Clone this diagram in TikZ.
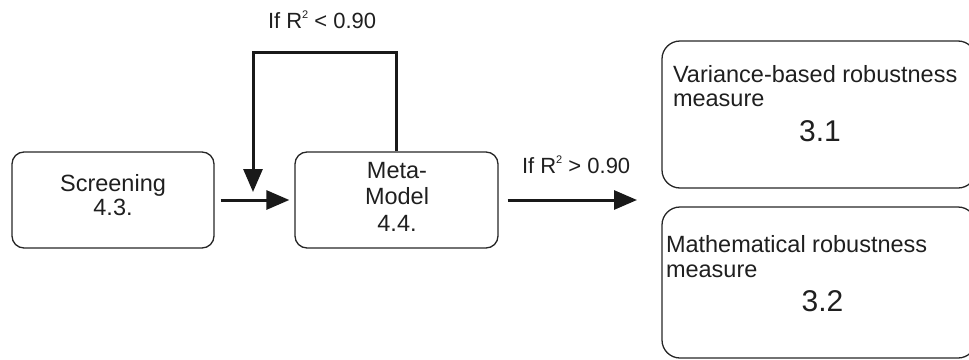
\documentclass[tikz,border=0pt]{standalone}
\usepackage{fontspec}
\setmainfont{Liberation Sans}
\usetikzlibrary{arrows.meta}
% R with a small raised 2
\newcommand{\rsq}{R\raisebox{10pt}{\fontsize{11}{11}\selectfont 2}}

\begin{document}
\begin{tikzpicture}[x=1pt,y=-1pt,
  box/.style={draw=black!85, line width=1.3pt, rounded corners=12pt, inner sep=0pt},
  bigbox/.style={box, rounded corners=18pt},
  txt/.style={inner sep=0pt, outer sep=0pt, text=black!88, font=\fontsize{23.5}{26}\selectfont},
  num/.style={txt, font=\fontsize{30}{32}\selectfont},
  lbl/.style={inner sep=0pt, outer sep=0pt, text=black!88, font=\fontsize{22}{26}\selectfont},
  arr/.style={line width=3pt, draw=black!90, line join=miter, -{Triangle[length=23pt,width=19pt]}}]
\useasboundingbox (0,0) rectangle (969,359);

% boxes
\node[box, minimum width=202pt, minimum height=96pt] (scr) at (113,200) {};
\node[box, minimum width=203pt, minimum height=96pt] (meta) at (396.5,200) {};
\node[bigbox, minimum width=314pt, minimum height=147pt] (var) at (819,114.5) {};
\node[bigbox, minimum width=314pt, minimum height=151pt] (math) at (819,282.5) {};

% box texts
\node[txt, align=center, anchor=north, font=\fontsize{23.5}{24}\selectfont] (scrt) at (113,174) {Screening\\4.3.};
\node[txt, align=center, anchor=north, font=\fontsize{23.5}{26.5}\selectfont] (metat) at (397,162) {Meta-\\Model\\4.4.};
\node[txt, align=left, anchor=north west, font=\fontsize{23.5}{24}\selectfont] (vart) at (673,65) {Variance-based robustness\\measure};
\node[num, anchor=base] (varn) at (820,141) {3.1};
\node[txt, align=left, anchor=north west, font=\fontsize{23.5}{25}\selectfont] (matht) at (666,235) {Mathematical robustness\\measure};
\node[num, anchor=base] (mathn) at (822.5,311) {3.2};

% conditions
\node[lbl, anchor=base west] (lt) at (268,28) {If \rsq{} < 0.90};
\node[lbl, anchor=base west] (lr) at (522,173) {If \rsq{} > 0.90};

% connectors
\coordinate (out) at (637,200);
\coordinate (loop) at (253,52);
\coordinate (fb) at (253,192);
\draw[arr, shorten <=6pt, shorten >=5pt] (scr.east) -- (meta.west);
\draw[arr, shorten <=9pt] (meta.east) -- (out);
\draw[arr] (meta.north) |- (loop) -- (fb);
\end{tikzpicture}
\end{document}
